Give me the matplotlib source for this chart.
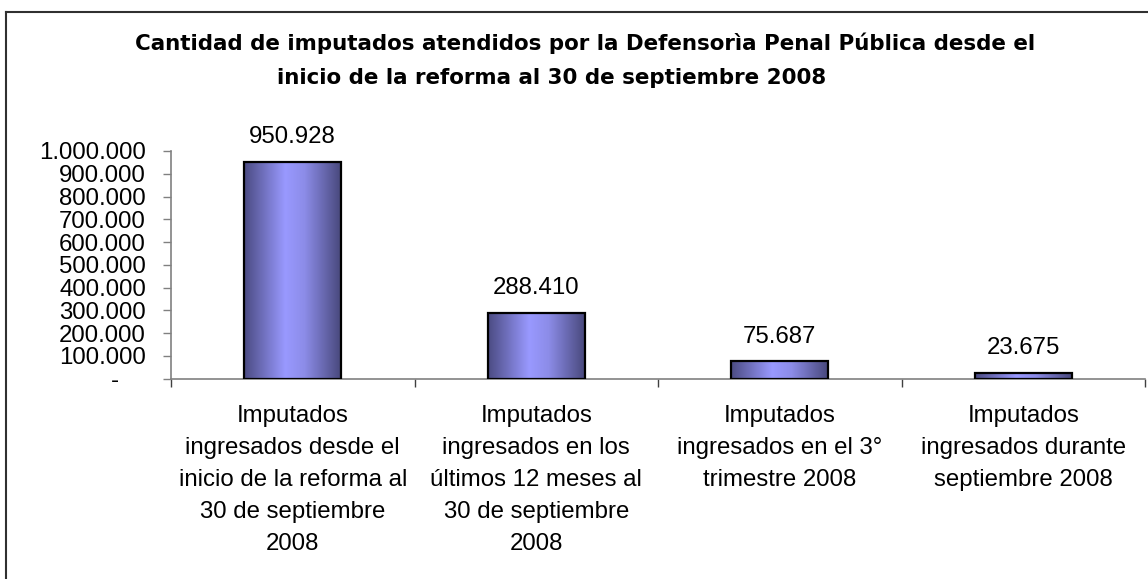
import matplotlib
matplotlib.use("Agg")
import matplotlib.pyplot as plt
import numpy as np
from matplotlib.colors import LinearSegmentedColormap
from matplotlib.lines import Line2D

plt.rcParams['font.family'] = ['Liberation Sans', 'DejaVu Sans']

title_lines = ["Cantidad de imputados atendidos por la Defensorìa Penal Pública desde el",
               "inicio de la reforma al 30 de septiembre 2008"]
categories = [
    "Imputados\ningresados desde el\ninicio de la reforma al\n30 de septiembre\n2008",
    "Imputados\ningresados en los\núltimos 12 meses al\n30 de septiembre\n2008",
    "Imputados\ningresados en el 3°\ntrimestre 2008",
    "Imputados\ningresados durante\nseptiembre 2008",
]
values = [950928, 288410, 75687, 23675]
yticks = [0, 100000, 200000, 300000, 400000, 500000, 600000, 700000, 800000, 900000, 1000000]


def fmt(v):
    return "-    " if v == 0 else f"{v:,}".replace(",", ".")


W, H = 1148, 579
fig = plt.figure(figsize=(W / 100, H / 100), dpi=100)
ax = fig.add_axes([171 / W, 1 - 378.7 / H, (1145 - 171) / W, (378.7 - 151) / H])

x = np.arange(len(values))
bars = ax.bar(x, values, width=0.4, facecolor='none', edgecolor='black', linewidth=1.6, zorder=3)

cmap = LinearSegmentedColormap.from_list(
    'grad', [(0.0, '#4b4b82'), (0.42, '#9999ff'), (0.62, '#8c8ce8'), (1.0, '#47477a')])
grad = np.linspace(0, 1, 256).reshape(1, -1)
for b in bars:
    x0, y0 = b.get_x(), b.get_y()
    w, h = b.get_width(), b.get_height()
    im = ax.imshow(grad, cmap=cmap, aspect='auto', extent=(x0, x0 + w, y0, y0 + h),
                   interpolation='bilinear', zorder=2)
    im.set_clip_path(b)

for xi, v in zip(x, values):
    ax.annotate(fmt(v), xy=(xi, v), xytext=(0, 10), textcoords='offset points',
                ha='center', va='bottom', fontsize=17.3)

ax.set_xlim(-0.5, len(values) - 0.5)
ax.set_ylim(0, 1000000)
ax.set_yticks(yticks)
ax.set_yticklabels([fmt(v) for v in yticks], fontsize=17.3)
ax.tick_params(axis='y', length=6, width=1, color='#808080', pad=12)

ax.set_xticks(x)
ax.set_xticklabels(categories, fontsize=17.3, linespacing=1.58)
ax.set_xticks(np.arange(len(values) + 1) - 0.5, minor=True)
ax.tick_params(axis='x', which='major', length=0, pad=19)
ax.tick_params(axis='x', which='minor', length=6, width=1, color='#404040', direction='out')

for s in ['top', 'right']:
    ax.spines[s].set_visible(False)
for s in ['left', 'bottom']:
    ax.spines[s].set_color('#808080')
    ax.spines[s].set_linewidth(1.2)

fig.text(585 / W, 1 - 43 / H, title_lines[0], ha='center', va='center', fontsize=15.4,
         fontweight='bold', family='DejaVu Sans')
fig.text(552 / W, 1 - 78 / H, title_lines[1], ha='center', va='center', fontsize=15.4,
         fontweight='bold', family='DejaVu Sans')

fig.add_artist(Line2D([6 / W, 6 / W], [0, 1 - 12 / H], color='#303030', lw=1.5))
fig.add_artist(Line2D([6 / W, 1], [1 - 12 / H, 1 - 12 / H], color='#303030', lw=1.5))

fig.savefig("out.png", dpi=100)
